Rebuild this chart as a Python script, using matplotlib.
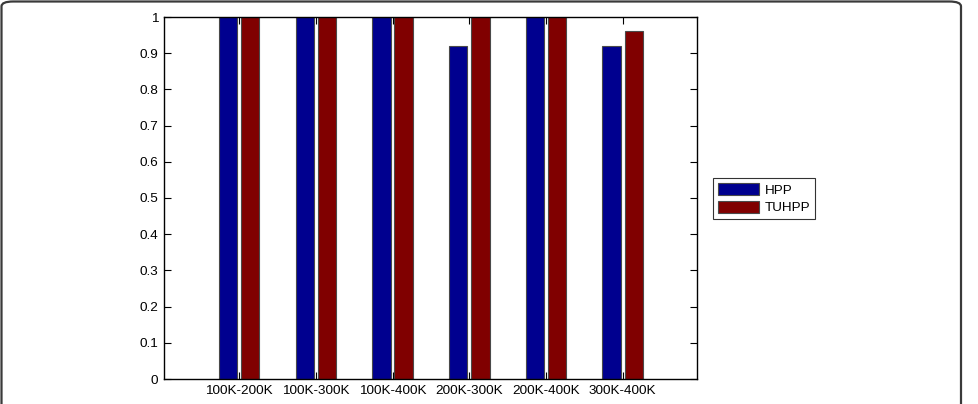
import matplotlib
matplotlib.use("Agg")
import matplotlib.pyplot as plt
import numpy as np
from matplotlib.patches import FancyBboxPatch

categories = ["100K-200K", "100K-300K", "100K-400K", "200K-300K", "200K-400K", "300K-400K"]
hpp = [1.0, 1.0, 1.0, 0.92, 1.0, 0.92]
tuhpp = [1.0, 1.0, 1.0, 1.0, 1.0, 0.96]
series_names = ["HPP", "TUHPP"]
colors = ["#00008F", "#800000"]

plt.rcParams['font.family'] = ['Liberation Sans', 'DejaVu Sans']
W, H = 979, 404
fig = plt.figure(figsize=(W / 100, H / 100), dpi=100)

# outer rounded frame
frame = FancyBboxPatch((1.5 / W, -30 / H), (961 - 1.5) / W, (402.5 + 30) / H,
                       boxstyle="round,pad=0,rounding_size=0.012",
                       transform=fig.transFigure, fill=False,
                       edgecolor="#3a3a3a", linewidth=1.6, clip_on=False)
fig.patches.append(frame)

left, right, top, bottom = 164, 697, 17, 379
ax = fig.add_axes([left / W, (H - bottom) / H, (right - left) / W, (bottom - top) / H])

x = np.arange(1, len(categories) + 1)
bw = 0.24
off = 0.145
ax.bar(x - off, hpp, width=bw, color=colors[0], edgecolor="#4a4a4a", linewidth=0.8, label=series_names[0])
ax.bar(x + off, tuhpp, width=bw, color=colors[1], edgecolor="#4a4a4a", linewidth=0.8, label=series_names[1])

ax.set_xlim(0.02, 6.97)
ax.set_ylim(0, 1)
ax.set_xticks(x)
ax.set_xticklabels(categories)
ax.set_yticks(np.round(np.arange(0, 1.01, 0.1), 1))
ax.set_yticklabels(["0", "0.1", "0.2", "0.3", "0.4", "0.5", "0.6", "0.7", "0.8", "0.9", "1"])
ax.tick_params(direction="in", length=5, width=0.8, top=True, right=True,
               labelsize=9.7, pad=4, colors="black")
for s in ax.spines.values():
    s.set_linewidth(1.0)
    s.set_color("black")

leg = ax.legend(loc="upper left", bbox_to_anchor=(713 / W, (H - 178) / H),
                bbox_transform=fig.transFigure, fontsize=9.7, frameon=True,
                fancybox=False, edgecolor="black", handlelength=3.1,
                handleheight=1.05, handletextpad=0.37, borderpad=0.35,
                labelspacing=0.3, borderaxespad=0)
leg.get_frame().set_linewidth(0.8)

fig.savefig("out.png", dpi=100)
